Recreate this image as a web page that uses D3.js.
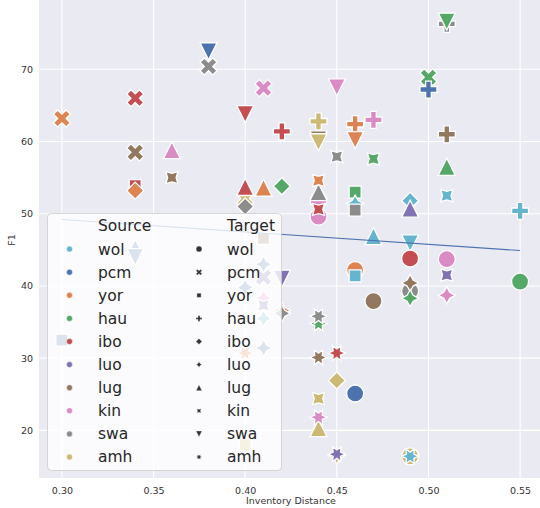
<!DOCTYPE html>
<html>
<head>
<meta charset="utf-8">
<script src="https://cdn.jsdelivr.net/npm/d3@7"></script>
<style>
  body { margin: 0; background: #fff; }
  svg { display: block; font-family: "DejaVu Sans", sans-serif; }
</style>
</head>
<body>
<svg id="chart" width="540" height="508"></svg>
<script>
// languages, in legend order
var languages = ['wol', 'pcm', 'yor', 'hau', 'ibo', 'luo', 'lug', 'kin', 'swa', 'amh'];

// one entry per point, drawn in this order
var source = ['pcm','swa','yor','ibo','kin','ibo','ibo','lug','kin','lug',
  'ibo','yor','amh','ibo','yor','hau','swa','swa','hau','hau',
  'pcm','kin','amh','lug','amh','yor','yor','kin','swa','hau',
  'lug','hau','wol','wol','kin','swa','yor','kin','ibo','hau',
  'wol','swa','wol','luo','wol','wol','ibo','kin','yor','wol',
  'luo','hau','lug','swa','lug','hau','kin','hau','swa','lug',
  'ibo','amh','pcm','amh','amh','kin','amh','luo','amh','wol',
  'pcm','pcm','pcm','lug','pcm','luo','luo','pcm','kin','luo',
  'wol','yor','swa','yor','pcm','amh'];
var target = ['swa','pcm','pcm','pcm','pcm','swa','hau','pcm','lug','kin',
  'yor','ibo','pcm','lug','lug','ibo','ibo','hau','swa','pcm',
  'hau','swa','hau','swa','swa','hau','swa','hau','kin','kin',
  'hau','lug','kin','hau','wol','lug','kin','wol','kin','yor',
  'luo','yor','ibo','lug','lug','swa','wol','wol','wol','yor',
  'kin','wol','wol','wol','luo','luo','luo','amh','amh','amh',
  'amh','ibo','wol','kin','lug','amh','luo','amh','wol','amh',
  'lug','swa','yor','yor','luo','pcm','swa','luo','luo','kin',
  'luo','luo','luo','amh','luo','yor'];
var distance = [0.38,0.38,0.30,0.34,0.41,0.40,0.42,0.34,0.36,0.36,
  0.34,0.34,0.40,0.40,0.41,0.42,0.40,0.51,0.51,0.50,
  0.50,0.45,0.44,0.44,0.44,0.46,0.46,0.47,0.45,0.47,
  0.51,0.51,0.51,0.55,0.44,0.44,0.44,0.44,0.44,0.46,
  0.46,0.46,0.49,0.49,0.47,0.49,0.49,0.51,0.46,0.46,
  0.51,0.55,0.47,0.49,0.49,0.49,0.51,0.44,0.44,0.44,
  0.45,0.45,0.46,0.44,0.44,0.44,0.45,0.45,0.49,0.49,
  0.34,0.34,0.30,0.41,0.41,0.41,0.42,0.40,0.41,0.41,
  0.41,0.42,0.42,0.40,0.41,0.40];
var f1 = [72.5,70.4,63.2,66.0,67.4,63.8,61.4,58.5,58.8,55.0,
  53.9,53.2,52.1,53.7,53.6,53.8,51.0,76.3,76.6,68.9,
  67.2,67.5,62.8,60.3,59.9,62.4,60.2,63.0,57.9,57.6,
  61.0,56.5,52.5,50.4,51.9,53.0,54.6,49.6,50.6,53.0,
  51.4,50.5,51.8,50.7,46.9,45.9,43.8,43.7,42.2,41.4,
  41.5,40.6,37.9,39.3,40.4,38.3,38.7,34.8,35.8,30.1,
  30.7,26.9,25.1,24.4,20.3,21.8,16.5,16.7,16.4,16.4,
  45.3,44.0,32.5,46.6,43.0,41.2,41.0,39.8,38.3,37.3,
  35.5,36.6,36.2,30.7,31.4,18.0];

// fitted trend line end points
var trendDist = [0.30, 0.55];
var trendF1 = [49.2, 44.9];

var xTicks = [0.30, 0.35, 0.40, 0.45, 0.50, 0.55];
var yTicks = [20, 30, 40, 50, 60, 70];

var colors = {
  wol: '#64b5cd', pcm: '#4c72b0', yor: '#dd8452', hau: '#55a868', ibo: '#c44e52',
  luo: '#8172b3', lug: '#937860', kin: '#da8bc3', swa: '#8c8c8c', amh: '#ccb974'
};
var shapes = {
  wol: 'o', pcm: 'X', yor: 'square', hau: 'P', ibo: 'diamond',
  luo: 'star4', lug: '^', kin: 'star4r', swa: 'v', amh: 'star6'
};

function poly(pts, L) {
  return 'M' + pts.map(p => (p[0] * L).toFixed(2) + ',' + (-p[1] * L).toFixed(2)).join('L') + 'Z';
}
function star(n, inner, rot) {
  var pts = [];
  for (var i = 0; i < 2 * n; i++) {
    var a = Math.PI / n * i + Math.PI / 2 + rot * Math.PI / 180;
    var r = i % 2 ? inner * 0.5 : 0.5;
    pts.push([r * Math.cos(a), r * Math.sin(a)]);
  }
  return pts;
}
function markerPath(kind, L) {
  var r = L / 2;
  switch (kind) {
    case 'o': return `M${r},0A${r},${r} 0 1 1 ${-r},0A${r},${r} 0 1 1 ${r},0Z`;
    case 'X': return poly([[-1,-2],[0,-1],[1,-2],[2,-1],[1,0],[2,1],[1,2],[0,1],[-1,2],[-2,1],[-1,0],[-2,-1]].map(p => [p[0]/4, p[1]/4]), L);
    case 'P': return poly([[-1,-3],[1,-3],[1,-1],[3,-1],[3,1],[1,1],[1,3],[-1,3],[-1,1],[-3,1],[-3,-1],[-1,-1]].map(p => [p[0]/6, p[1]/6]), L);
    case 'square': var h = 0.3536; return poly([[-h,-h],[h,-h],[h,h],[-h,h]], L);
    case 'diamond': return poly([[0,0.5],[0.5,0],[0,-0.5],[-0.5,0]], L);
    case 'star4': return poly(star(4, 0.5, 0), L);
    case 'star4r': return poly(star(4, 0.5, 45), L);
    case '^': return poly([[0,0.5],[-0.5,-0.5],[0.5,-0.5]], L);
    case 'v': return poly([[0,-0.5],[-0.5,0.5],[0.5,0.5]], L);
    case 'star6': return poly(star(6, 0.5, 30), L);
  }
}

var svg = d3.select('#chart');
var plot = {left: 39, right: 543, top: 0, bottom: 478};

var x = d3.scaleLinear().domain([0.2875, 0.5625]).range([plot.left, plot.right]);
var y = d3.scaleLinear().domain([13.4, 79.6]).range([plot.bottom, plot.top]);

svg.append('rect')
  .attr('x', plot.left).attr('y', plot.top)
  .attr('width', plot.right - plot.left).attr('height', plot.bottom - plot.top)
  .attr('fill', '#eaeaf2');

// grid
svg.append('g').selectAll('line').data(xTicks).enter().append('line')
  .attr('x1', d => x(d)).attr('x2', d => x(d))
  .attr('y1', plot.top).attr('y2', plot.bottom)
  .attr('stroke', '#fff').attr('stroke-width', 1.1);
svg.append('g').selectAll('line').data(yTicks).enter().append('line')
  .attr('y1', d => y(d)).attr('y2', d => y(d))
  .attr('x1', plot.left).attr('x2', plot.right)
  .attr('stroke', '#fff').attr('stroke-width', 1.1);

// axes (labels only)
var xAxis = svg.append('g')
  .attr('transform', `translate(0,${plot.bottom})`)
  .call(d3.axisBottom(x).tickValues(xTicks).tickFormat(d3.format('.2f')).tickSize(0).tickPadding(9));
var yAxis = svg.append('g')
  .attr('transform', `translate(${plot.left},0)`)
  .call(d3.axisLeft(y).tickValues(yTicks).tickFormat(d3.format('d')).tickSize(0).tickPadding(6));
[xAxis, yAxis].forEach(function(a) {
  a.select('.domain').remove();
  a.selectAll('text').attr('fill', '#333').style('font-size', '9.5px').style('font-family', '"DejaVu Sans", sans-serif');
});

svg.append('text')
  .attr('x', (plot.left + plot.right) / 2).attr('y', 504)
  .attr('text-anchor', 'middle').attr('fill', '#333').style('font-size', '9.5px')
  .text('Inventory Distance');
svg.append('text')
  .attr('transform', 'translate(15,240) rotate(-90)')
  .attr('text-anchor', 'middle').attr('fill', '#333').style('font-size', '9.5px')
  .text('F1');

// points
var points = source.map((s, i) => ({source: s, target: target[i], dist: distance[i], f1: f1[i]}));
svg.append('g').selectAll('path').data(points).enter().append('path')
  .attr('transform', d => `translate(${x(d.dist)},${y(d.f1)})`)
  .attr('d', d => markerPath(shapes[d.target], 17))
  .attr('fill', d => colors[d.source])
  .attr('stroke', '#fff').attr('stroke-width', 1.3).attr('stroke-linejoin', 'miter');

// trend line
svg.append('path')
  .datum(trendDist.map((d, i) => [d, trendF1[i]]))
  .attr('d', d3.line().x(d => x(d[0])).y(d => y(d[1])))
  .attr('stroke', '#4c72b0').attr('stroke-width', 1.1).attr('fill', 'none');

// legend
var leg = svg.append('g');
leg.append('rect')
  .attr('x', 47.5).attr('y', 213.5).attr('width', 234).attr('height', 257).attr('rx', 4)
  .attr('fill', 'rgba(255,255,255,0.8)').attr('stroke', 'rgba(204,204,204,0.8)');
var rowY = i => 226 + i * 23.1;
leg.append('text').attr('x', 98).attr('y', rowY(0)).attr('dy', '0.35em')
  .attr('fill', '#262626').style('font-size', '15.5px').text('Source');
leg.append('text').attr('x', 227).attr('y', rowY(0)).attr('dy', '0.35em')
  .attr('fill', '#262626').style('font-size', '15.5px').text('Target');
languages.forEach(function(lang, i) {
  var yy = rowY(i + 1);
  leg.append('path').attr('transform', `translate(69.5,${yy})`)
    .attr('d', markerPath('o', 6)).attr('fill', colors[lang])
    .attr('stroke', '#fff').attr('stroke-width', 0.5);
  leg.append('text').attr('x', 98).attr('y', yy).attr('dy', '0.35em')
    .attr('fill', '#262626').style('font-size', '15.5px').text(lang);
  leg.append('path').attr('transform', `translate(199,${yy})`)
    .attr('d', markerPath(shapes[lang], 6)).attr('fill', '#333')
    .attr('stroke', '#fff').attr('stroke-width', 0.4);
  leg.append('text').attr('x', 227).attr('y', yy).attr('dy', '0.35em')
    .attr('fill', '#262626').style('font-size', '15.5px').text(lang);
});
</script>
</body>
</html>
